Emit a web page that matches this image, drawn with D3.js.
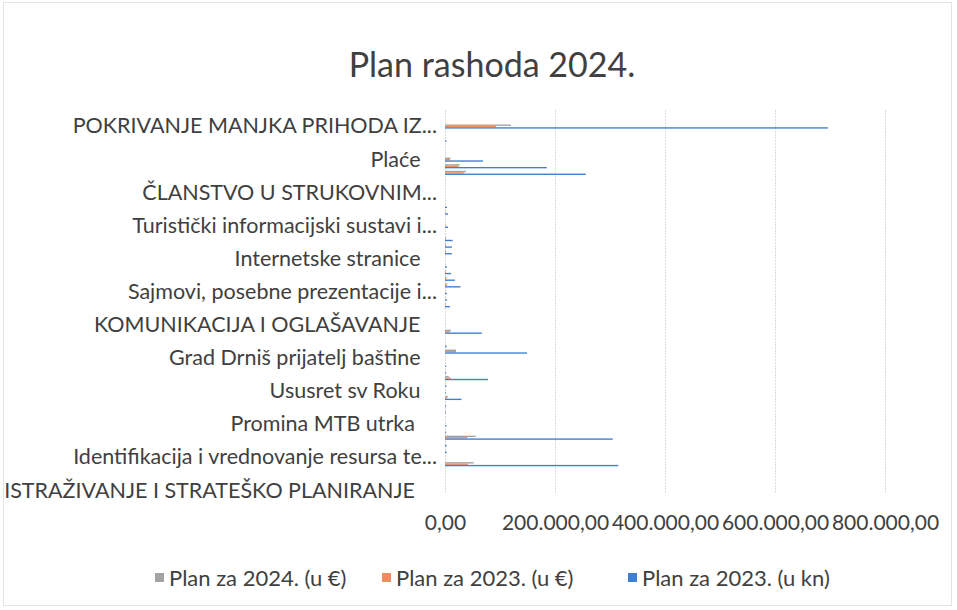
<!DOCTYPE html>
<html lang="hr">
    <head>
        <meta charset="utf-8">
        <title>Plan rashoda 2024.</title>
        <script src="https://cdn.jsdelivr.net/npm/d3@7"></script>
        <style>
            body { margin: 0; background: #fff; }
            text { font-family: Lato, "Open Sans", sans-serif; fill: #404040; }
        </style>
    </head>
    <body>
        <script>
            // categories go bottom -> top, like in the Excel sheet; only every 5th one has a visible label
            // (trailing spaces are in the source labels)
            var labels = [
                "ISTRAŽIVANJE I STRATEŠKO PLANIRANJE\u00a0\u00a0\u00a0\u00a0",
                "Identifikacija i vrednovanje resursa te...",
                "Promina MTB utrka\u00a0\u00a0\u00a0\u00a0",
                "Ususret sv Roku\u00a0\u00a0\u00a0",
                "Grad Drniš prijatelj baštine\u00a0\u00a0\u00a0",
                "KOMUNIKACIJA I OGLAŠAVANJE\u00a0\u00a0\u00a0",
                "Sajmovi, posebne prezentacije i...",
                "Internetske stranice\u00a0\u00a0\u00a0",
                "Turistički informacijski sustavi i...",
                "ČLANSTVO U STRUKOVNIM...",
                "Plaće\u00a0\u00a0\u00a0",
                "POKRIVANJE MANJKA PRIHODA IZ..."
            ];
            var labelEvery = 5;

            var seriesNames = ["Plan za 2024. (u €)", "Plan za 2023. (u €)", "Plan za 2023. (u kn)"];
            var colors = ["#a3a3a3", "#ee8c5e", "#3f7fd3"];

            // Plan za 2023. (u kn)
            var plan2023kn = [
                0, 0, 0, 0, 315000, 0, 3000, 3000, 305000, 2000,
                2500, 0, 1500, 2000, 30000, 1500, 2500, 78000, 2000, 2000,
                0, 149000, 3000, 0, 67000, 0, 0, 0, 9000, 3500,
                3500, 28000, 18000, 11000, 3500, 0, 12500, 12500, 14000, 0,
                5500, 0, 5500, 3500, 0, 0, 0, 0, 256000, 185000,
                69000, 0, 0, 2500, 0, 696000, 0, 0
            ];
            // Plan za 2023. (u €)
            var plan2023eur = [
                0, 0, 0, 0, 41800, 0, 400, 400, 40500, 270,
                330, 0, 200, 270, 4000, 200, 330, 10350, 270, 270,
                0, 19800, 400, 0, 8900, 0, 0, 0, 1200, 460,
                460, 3700, 2400, 1460, 460, 0, 1660, 1660, 1860, 0,
                730, 0, 730, 460, 0, 0, 0, 0, 34000, 24550,
                9150, 0, 0, 330, 0, 92370, 0, 0
            ];
            // Plan za 2024. (u €)
            var plan2024eur = [
                0, 0, 0, 0, 52000, 0, 500, 500, 56000, 300,
                400, 0, 300, 300, 5000, 300, 400, 7000, 300, 300,
                0, 20000, 500, 0, 11000, 0, 0, 0, 1500, 500,
                500, 4000, 2500, 1500, 500, 0, 2000, 2000, 2000, 0,
                800, 0, 800, 500, 0, 0, 0, 0, 38000, 27000,
                10000, 0, 0, 400, 0, 120000, 0, 0
            ];
            var xTicks = [0, 200000, 400000, 600000, 800000];

            var w = 957;
            var h = 610;
            // plot area (don't call it "top", window.top is read only)
            var plotL = 445, plotR = 885, plotT = 110, plotB = 494;

            var series = [plan2024eur, plan2023eur, plan2023kn];
            var idx = d3.range(plan2023kn.length);

            var svg = d3.select("body")
                        .append("svg")
                        .attr("width", w)
                        .attr("height", h);

            // faint chart border from the scan
            svg.append("rect")
                .attr("x", 3.5).attr("y", 2.5)
                .attr("width", 948).attr("height", 603)
                .attr("fill", "none")
                .attr("stroke", "#e4e4e4");

            svg.append("text")
                .attr("x", 492)
                .attr("y", 77)
                .attr("text-anchor", "middle")
                .attr("font-size", "34px")
                .text("Plan rashoda 2024.");

            var xScale = d3.scaleLinear()
                            .domain([0, 800000])
                            .range([plotL, plotR]);

            // first category at the bottom
            var yScale = d3.scaleBand()
                            .domain(idx)
                            .range([plotB, plotT]);

            // three thin bars per category, Excel gap width 182%
            var sub = d3.scaleBand()
                        .domain(d3.range(series.length))
                        .range([0, yScale.bandwidth()])
                        .paddingOuter(0.91);

            // gridlines
            svg.append("g")
                .selectAll("line")
                .data(xTicks)
                .enter()
                .append("line")
                .attr("x1", function(d){ return xScale(d) + 0.5; })
                .attr("x2", function(d){ return xScale(d) + 0.5; })
                .attr("y1", plotT)
                .attr("y2", plotB)
                .attr("stroke", "#dcdcdc")
                .attr("stroke-dasharray", "2,1");

            var locale = d3.formatLocale({decimal: ",", thousands: ".", grouping: [3], currency: ["", ""]});
            var fmt = locale.format(",.2f");

            var xAxis = svg.append("g")
                .attr("transform", "translate(0," + plotB + ")")
                .call(d3.axisBottom(xScale).tickValues(xTicks).tickFormat(fmt).tickSize(0).tickPadding(21));
            xAxis.select(".domain").remove();
            xAxis.selectAll("text")
                .attr("font-size", "21px")
                .attr("fill", "#404040")
                .attr("font-family", "Lato");

            var yAxis = svg.append("g")
                .attr("transform", "translate(" + plotL + ",0)")
                .call(d3.axisLeft(yScale)
                        .tickValues(idx.filter(function(i){ return i % labelEvery == 0; }))
                        .tickFormat(function(i){ return labels[i / labelEvery]; })
                        .tickSize(0)
                        .tickPadding(8));
            yAxis.select(".domain").remove();
            yAxis.selectAll("text")
                .attr("font-size", "21.5px")
                .attr("fill", "#404040")
                .attr("font-family", "Lato");

            // bars
            series.forEach(function(vals, s){
                svg.append("g")
                    .attr("fill", colors[s])
                    .selectAll("rect")
                    .data(vals)
                    .enter()
                    .append("rect")
                    .attr("x", xScale(0))
                    .attr("y", function(d, i){ return yScale(i) + sub(s); })
                    .attr("width", function(d){ return xScale(d) - xScale(0); })
                    .attr("height", sub.bandwidth());
            });

            // legend
            var legendX = [155, 382, 628];
            var legend = svg.append("g")
                .selectAll("g")
                .data(seriesNames)
                .enter()
                .append("g")
                .attr("transform", function(d, i){ return "translate(" + legendX[i] + ",578)"; });
            legend.append("rect")
                .attr("x", 0).attr("y", -5)
                .attr("width", 9).attr("height", 9)
                .attr("fill", function(d, i){ return colors[i]; });
            legend.append("text")
                .attr("x", 14)
                .attr("y", 8)
                .attr("font-size", "22px")
                .text(function(d){ return d; });
        </script>
    </body>
</html>
